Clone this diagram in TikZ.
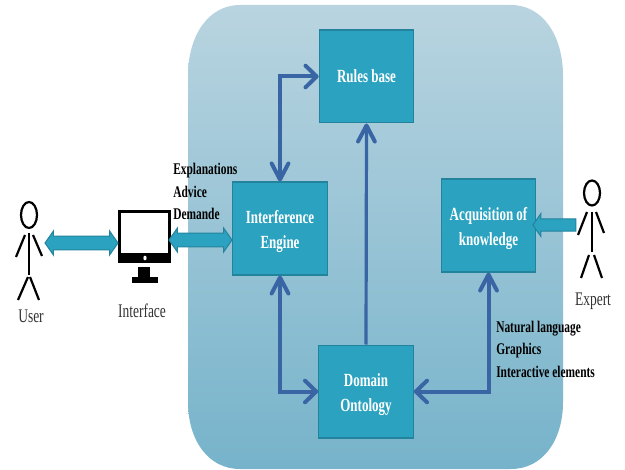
\documentclass[tikz,border=0pt]{standalone}
\usepackage{fontspec}
\setmainfont{Liberation Serif}
\newfontfamily\narrowfont[FakeStretch=0.7]{Liberation Serif}
\newcommand{\toppad}{\rule{0pt}{14pt}}
\usetikzlibrary{arrows.meta,shapes.arrows}
\definecolor{boxfill}{HTML}{2BA3C0}
\definecolor{boxedge}{HTML}{23839D}
\definecolor{linkblue}{HTML}{3A65A5}
\definecolor{paneltop}{HTML}{B9D4E0}
\definecolor{panelbot}{HTML}{76B3CA}
\tikzset{
  block/.style={draw=boxedge,line width=0.3mm,fill=boxfill,minimum width=23.6mm,minimum height=23.2mm,
    inner sep=0pt,text=white,align=center,font=\narrowfont\bfseries\fontsize{13.2}{17.5}\selectfont},
  tall/.tip={Straight Barb[length=4mm,width=4.2mm,line width=1mm,round]},
  flat/.tip={Straight Barb[length=2.8mm,width=5.4mm,line width=1mm,round]},
  link/.style={linkblue,line width=1mm,tall-flat},
  linkup/.style={linkblue,line width=0.8mm,-tall},
  wide/.style={double arrow,draw=boxedge,line width=0.25mm,fill=boxfill,inner sep=0pt,inner ysep=1.6mm,
    double arrow head extend=1.3mm,double arrow tip angle=110},
  stick/.style={black,line width=0.55mm},
  caption/.style={font=\narrowfont\fontsize{13.7}{15}\selectfont,text=black!80},
  note/.style={anchor=west,inner sep=0pt,font=\narrowfont\bfseries\fontsize{11.6}{13}\selectfont}
}
\begin{document}
\begin{tikzpicture}[x=0.25mm,y=-0.25mm]
\useasboundingbox (0,0) rectangle (625,470);
\shade [top color=paneltop,bottom color=panelbot]
  (188,76) .. controls (188,36) and (208,5) .. (240,5) -- (511,5)
  .. controls (543,5) and (563,36) .. (563,76) -- (563,402)
  .. controls (563,440) and (543,469) .. (511,469) -- (240,469)
  .. controls (208,469) and (188,440) .. (188,402) -- cycle;
\node [block] (rules) at (366.5,76.5) {Rules base};
\node [block] (engine) at (280,228.5) {\toppad Interference\\Engine};
\node [block] (acquire) at (488.5,225.5) {\toppad Acquisition of\\knowledge};
\node [block] (ontology) at (366,391.5) {\toppad Domain\\Ontology};
\draw [link] (engine.north) |- (rules.west);
\draw [link] (engine.south) |- (ontology.west);
\draw [link] (acquire.south) |- (ontology.east);
\draw [linkup] (ontology.north) -- (rules.south);
\fill (118,210) rectangle (171,263);
\fill [white] (121,213.5) rectangle (168,253);
\fill [white] (145,258) ellipse [x radius=1.6,y radius=2.4];
\fill (138,267) rectangle (150,278);
\fill (132,277) rectangle (158,283);
\node [wide,minimum height=18.25mm] (usrarrow) at (81.5,243) {};
\node [wide,minimum height=15.75mm] (ifarrow) at (200.5,240) {};
\node [single arrow,draw=boxedge,line width=0.25mm,fill=boxfill,minimum height=10.75mm,inner sep=0pt,inner ysep=1.4mm,
  single arrow head extend=1.35mm,single arrow tip angle=110,shape border rotate=180] (exparrow) at (556.5,225) {};
\draw [stick] (29,215) ellipse [x radius=8,y radius=13];
\draw [stick] (29,233) -- (29,275);
\draw [stick] (25,235) -- (16,257);
\draw [stick] (33,235) -- (42,256);
\draw [stick] (28,277) -- (18,300);
\draw [stick] (30,277) -- (39,300);
\draw [stick] (592,193) ellipse [x radius=8,y radius=12.5];
\draw [stick] (592,212) -- (592,252);
\draw [stick] (587,212) -- (578,235);
\draw [stick] (596,212) -- (604,233);
\draw [stick] (589,255) -- (581,278);
\draw [stick] (594,255) -- (602,278);
\node [caption] (user) at (31,316) {User};
\node [caption] (iface) at (142,311) {Interface};
\node [caption] (expert) at (593,301) {Expert};
\node [note] (n1) at (173,171) {Explanations};
\node [note] (n2) at (173,192) {Advice};
\node [note] (n3) at (173,214) {Demande};
\node [note] (n4) at (496,329) {Natural language};
\node [note] (n5) at (496,351) {Graphics};
\node [note] (n6) at (496,372) {Interactive elements};
\end{tikzpicture}
\end{document}
